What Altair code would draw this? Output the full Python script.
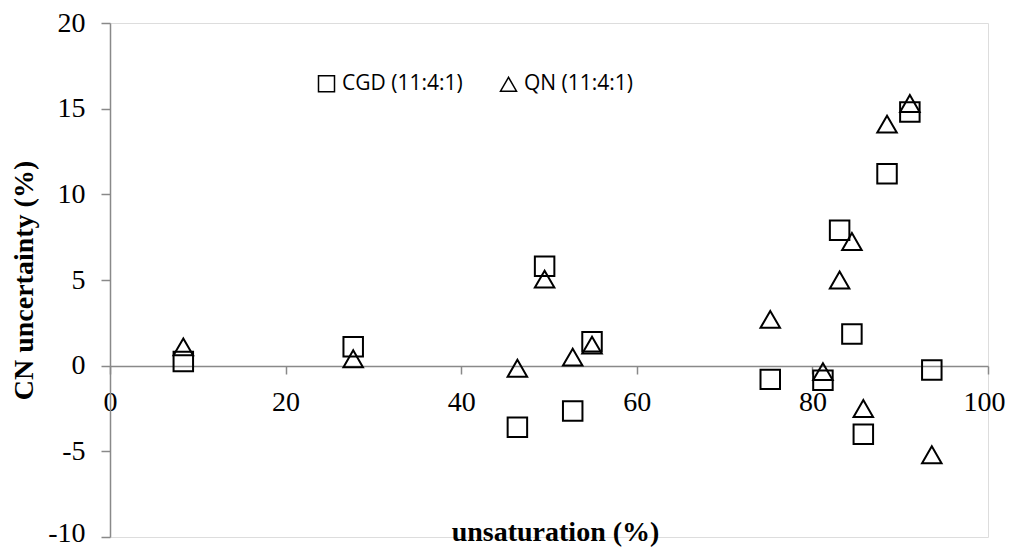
import altair as alt
import pandas as pd

# Data
unsaturation = [8.35, 27.7, 49.5, 46.4, 52.7, 54.9, 75.2, 81.2, 83.1, 84.5, 85.8, 88.5, 91.1, 93.6]
cgd_uncertainty = [0.25, 1.1, 5.8, -3.6, -2.65, 1.4, -0.8, -0.85, 7.9, 1.85, -4.0, 11.2, 14.8, -0.25]
qn_uncertainty = [1.1, 0.4, 5.05, -0.15, 0.5, 1.2, 2.7, -0.35, 5.0, 7.25, -2.5, 14.1, 15.3, -5.2]
series_names = ["CGD (11:4:1)", "QN (11:4:1)"]
x_ticks = [0, 20, 40, 60, 80, 100]
y_ticks = [-10, -5, 0, 5, 10, 15, 20]

rows = []
for xv, a, b in zip(unsaturation, cgd_uncertainty, qn_uncertainty):
    rows.append({"unsaturation": xv, "uncertainty": a, "series": series_names[0]})
    rows.append({"unsaturation": xv, "uncertainty": b, "series": series_names[1]})
df = pd.DataFrame(rows)

axis_gray = "#898989"
serif = "Liberation Serif"

chart = (
    alt.Chart(df)
    .mark_point(filled=False, strokeWidth=2, color="black", size=380, opacity=1)
    .encode(
        x=alt.X(
            "unsaturation:Q",
            scale=alt.Scale(domain=[0, 100], nice=False, zero=False),
            axis=alt.Axis(
                values=x_ticks,
                title="unsaturation (%)",
                offset=-171,
                grid=False,
                domainColor=axis_gray,
                domainWidth=1.5,
                tickColor=axis_gray,
                tickWidth=1.5,
                tickSize=8,
                labelFont=serif,
                labelFontSize=28,
                labelColor="black",
                labelPadding=14,
                labelFlush=False,
                labelOverlap=False,
                labelOffset={"condition": {"test": "datum.value == 100", "value": -4}, "value": 0},
                titleFont=serif,
                titleFontSize=28,
                titleFontWeight="bold",
                titleColor="black",
                titleBaseline="alphabetic",
                titleX=445,
                titleY=174,
            ),
        ),
        y=alt.Y(
            "uncertainty:Q",
            scale=alt.Scale(domain=[-10, 20], nice=False, zero=False),
            axis=alt.Axis(
                values=y_ticks,
                title="CN uncertainty (%)",
                grid=False,
                domainColor=axis_gray,
                domainWidth=1.5,
                tickColor=axis_gray,
                tickWidth=1.5,
                tickSize=9,
                labelExpr="toString(datum.value)",
                labelFont=serif,
                labelFontSize=28,
                labelColor="black",
                labelPadding=16,
                labelOverlap=False,
                labelOffset={"condition": {"test": "datum.value == -10", "value": -4}, "value": 0},
                titleFont=serif,
                titleFontSize=28,
                titleFontWeight="bold",
                titleColor="black",
                titleBaseline="alphabetic",
                titleX=-78,
                titleY=257,
            ),
        ),
        shape=alt.Shape(
            "series:N",
            scale=alt.Scale(domain=series_names, range=["square", "triangle-up"]),
            legend=alt.Legend(
                title=None,
                orient="none",
                direction="horizontal",
                legendX=206,
                legendY=50,
                padding=0,
                symbolSize=256,
                symbolStrokeWidth=1.5,
                symbolStrokeColor="black",
                labelFont="Open Sans",
                labelFontSize=21,
                labelColor="black",
                labelOffset=5,
                columnPadding=34,
            ),
        ),
    )
    .properties(
        width=878,
        height=514,
        autosize=alt.AutoSizeParams(type="none"),
        padding={"left": 102, "top": 15, "right": 17, "bottom": 11},
    )
    .configure_view(stroke=None)
    .configure(background="white")
)

chart.save("out.html", embed_options={"renderer": "svg", "actions": False})
